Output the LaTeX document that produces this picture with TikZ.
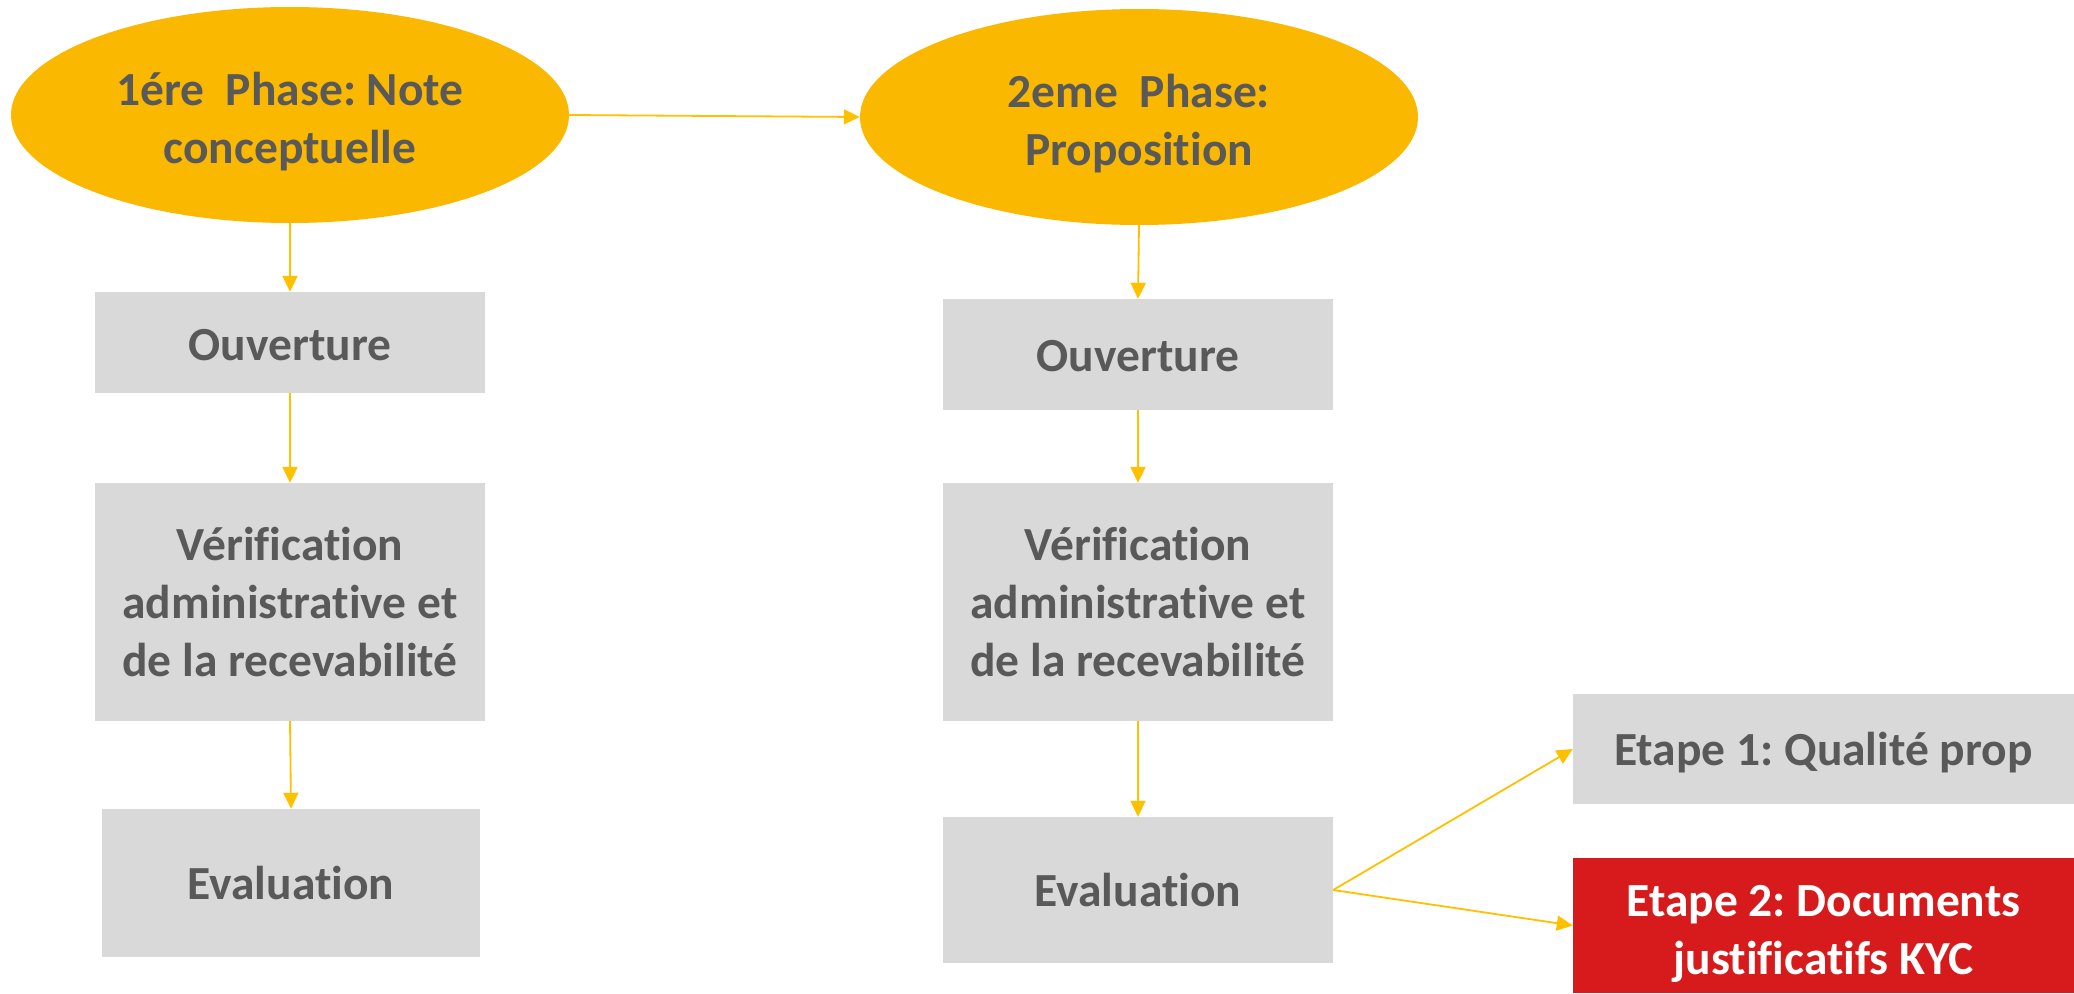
\documentclass[tikz,border=0pt]{standalone}
\usepackage{fontspec}
\setmainfont{Carlito}[Ligatures=NoCommon]
\frenchspacing
\usetikzlibrary{shapes.geometric,arrows.meta}
\definecolor{phaseyellow}{HTML}{FAB800}
\definecolor{boxgray}{HTML}{D9D9D9}
\definecolor{txtgray}{HTML}{595959}
\definecolor{arrowyellow}{HTML}{FFC000}
\definecolor{kycred}{HTML}{D71A1C}
\newcommand{\lowertext}[2]{\raisebox{-#1}[\height][\depth]{#2}}
\begin{document}
\begin{tikzpicture}[x=1pt,y=-1pt,
  phase/.style={ellipse,fill=phaseyellow,draw=none,inner sep=0pt,
    minimum width=558pt,minimum height=216pt},
  phasetext/.style={align=center,text=txtgray,inner sep=0pt,yshift=-7pt,
    font=\fontsize{47.5}{58}\selectfont\bfseries},
  stepbox/.style={rectangle,fill=boxgray,draw=none,inner sep=0pt,
    align=center,text=txtgray,font=\fontsize{47.5}{58}\selectfont\bfseries},
  redbox/.style={stepbox,fill=kycred,text=white},
  flow/.style={draw=arrowyellow,line width=1.8pt,
    -{Triangle[length=16pt,width=15pt]}}
]
\useasboundingbox (0,0) rectangle (2074,993);
\node[phase,label={[phasetext]center:1ére\ \ Phase: Note\\conceptuelle}] (p1) at (290,115) {};
\node[phase,label={[phasetext]center:2eme\ \ Phase:\\Proposition}] (p2) at (1139,117) {};

\node[stepbox,minimum width=390pt,minimum height=101pt] (o1) at (290,342.5) {\lowertext{3pt}{Ouverture}};
\node[stepbox,minimum width=390pt,minimum height=238pt] (v1) at (290,602) {Vérification\\administrative et\\de la recevabilité};
\node[stepbox,minimum width=378pt,minimum height=148pt] (e1) at (291,883) {Evaluation};

\node[stepbox,minimum width=390pt,minimum height=111pt] (o2) at (1138,354.5) {\lowertext{2pt}{Ouverture}};
\node[stepbox,minimum width=390pt,minimum height=238pt] (v2) at (1138,602) {Vérification\\administrative et\\de la recevabilité};
\node[stepbox,minimum width=390pt,minimum height=146pt] (e2) at (1138,890) {Evaluation};

\node[stepbox,minimum width=501pt,minimum height=110pt] (s1) at (1823.5,749) {\lowertext{4pt}{Etape 1: Qualité prop}};
\node[redbox,minimum width=501pt,minimum height=135pt] (s2) at (1823.5,925.5) {\lowertext{8pt}{\parbox{490pt}{\centering Etape 2: Documents\\justificatifs KYC}}};

\draw[flow] (p1.east) -- (p2.west);
\draw[flow] (p1.south) -- (o1.north);
\draw[flow] (o1.south) -- (v1.north);
\draw[flow] (v1.south) -- (e1.north);
\draw[flow] (p2.south) -- (o2.north);
\draw[flow] (o2.south) -- (v2.north);
\draw[flow] (v2.south) -- (e2.north);
\draw[flow] (e2.east) -- (s1.west);
\draw[flow] (e2.east) -- (s2.west);
\end{tikzpicture}
\end{document}
